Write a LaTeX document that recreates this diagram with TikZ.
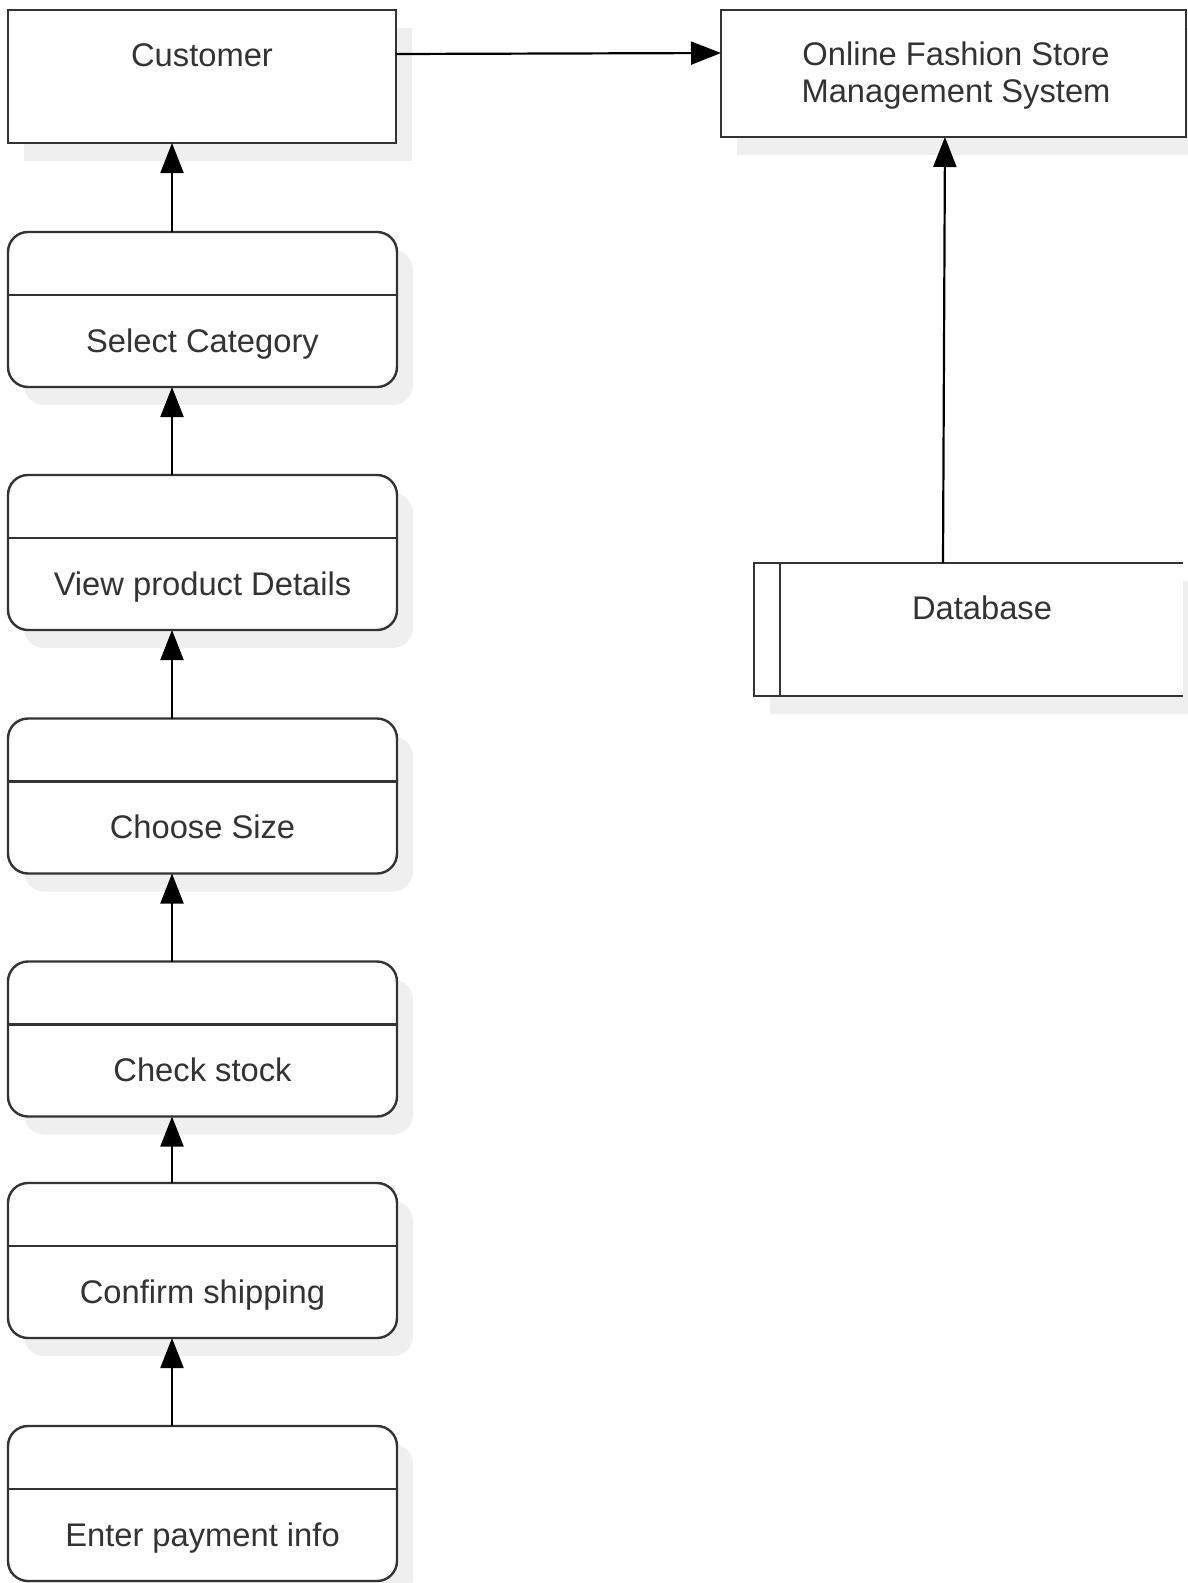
\documentclass[tikz,border=0pt]{standalone}
\usepackage{fontspec}
\setmainfont{Liberation Sans}
\usetikzlibrary{arrows.meta,shadows}
\definecolor{ink}{HTML}{333333}
\definecolor{shd}{HTML}{EFEFEF}
\tikzset{
  box/.style={draw=ink, line width=2.4pt, fill=white, inner sep=0pt, outer sep=0pt,
    drop shadow={shadow xshift=16pt, shadow yshift=-18pt, fill=shd, opacity=1}},
  procbox/.style={box, rounded corners=20pt, minimum width=389pt, minimum height=155pt},
  lbl/.style={text=ink, font=\fontsize{32.7}{37}\selectfont, inner sep=0pt, anchor=base},
  arr/.style={line width=2.2pt, draw=black, -{Triangle[length=30pt,width=23pt]}},
  divline/.style={draw=ink, line width=2.4pt}
}
\begin{document}
\begin{tikzpicture}[x=1pt,y=-1pt]
\useasboundingbox (0,0) rectangle (1187,1583);

% Customer and system
\node[box, minimum width=388pt, minimum height=133pt] (cust) at (202,76.5) {};
\node[lbl] (custt) at (202,66) {Customer};
\node[box, minimum width=465pt, minimum height=127pt] (ofs) at (953.5,73.5) {};
\node[lbl, align=center] (ofst) at (956,102) {Online Fashion Store\\Management System};

% Database (open-ended data store)
\node[box, draw=none, minimum width=429pt, minimum height=133pt] (db) at (968.5,629.5) {};
\draw[divline] (db.north east) -- (db.north west) -- (db.south west) -- (db.south east);
\draw[divline] ([xshift=26pt]db.north west) -- ([xshift=26pt]db.south west);
\node[lbl] (dbt) at (982,619) {Database};

% Process boxes
\node[procbox] (p1) at (202.5,309.5) {};
\node[procbox] (p2) at (202.5,552.5) {};
\node[procbox] (p3) at (202.5,796) {};
\node[procbox] (p4) at (202.5,1039) {};
\node[procbox] (p5) at (202.5,1260.5) {};
\node[procbox] (p6) at (202.5,1503.5) {};
\foreach \p in {p1,p2,p3,p4,p5,p6}{
  \draw[divline] ([yshift=-63pt]\p.north west) -- ([yshift=-63pt]\p.north east);
}
\node[lbl] (t1) at ([yshift=35pt]p1.south) {Select Category};
\node[lbl] (t2) at ([yshift=35pt]p2.south) {View product Details};
\node[lbl] (t3) at ([yshift=35pt]p3.south) {Choose Size};
\node[lbl] (t4) at ([yshift=35pt]p4.south) {Check stock};
\node[lbl] (t5) at ([yshift=35pt]p5.south) {Confirm shipping};
\node[lbl] (t6) at ([yshift=35pt]p6.south) {Enter payment info};

% Connectors
\draw[arr] ([yshift=22.5pt]cust.east) -- ([yshift=20.5pt]ofs.west);
\draw[arr] ([xshift=-25.5pt]db.north) -- ([xshift=-8.5pt]ofs.south);
\draw[arr] ([xshift=-30.5pt]p1.north) -- ([xshift=-30pt]cust.south);
\draw[arr] ([xshift=-30.5pt]p2.north) -- ([xshift=-30.5pt]p1.south);
\draw[arr] ([xshift=-30.5pt]p3.north) -- ([xshift=-30.5pt]p2.south);
\draw[arr] ([xshift=-30.5pt]p4.north) -- ([xshift=-30.5pt]p3.south);
\draw[arr] ([xshift=-30.5pt]p5.north) -- ([xshift=-30.5pt]p4.south);
\draw[arr] ([xshift=-30.5pt]p6.north) -- ([xshift=-30.5pt]p5.south);
\end{tikzpicture}
\end{document}
